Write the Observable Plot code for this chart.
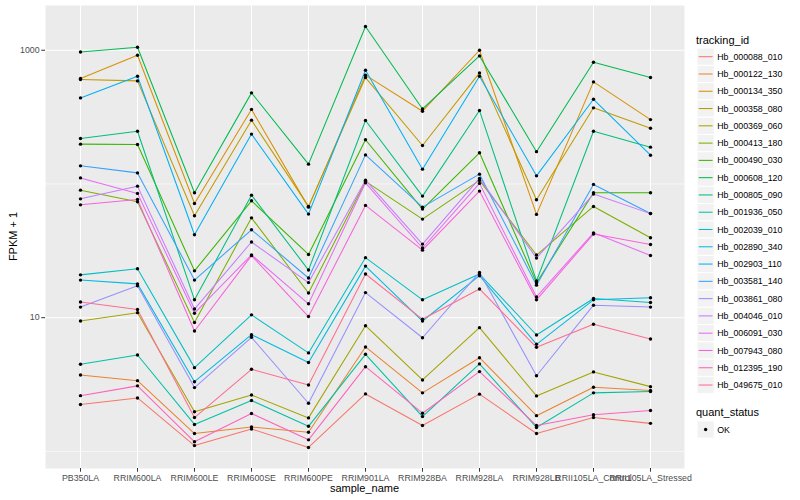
<!DOCTYPE html>
<html><head><meta charset="utf-8">
<script src="https://cdn.jsdelivr.net/npm/d3@7"></script>
<script src="https://cdn.jsdelivr.net/npm/@observablehq/plot@0.6"></script>
<style>body{margin:0;background:#fff;} #chart{width:800px;height:500px;}</style>
</head><body><div id="chart"></div>
<script>
const samples = ["PB350LA","RRIM600LA","RRIM600LE","RRIM600SE","RRIM600PE","RRIM901LA","RRIM928BA","RRIM928LA","RRIM928LB","RRII105LA_Control","RRII105LA_Stressed"];
const trackingIds = ["Hb_000088_010","Hb_000122_130","Hb_000134_350","Hb_000358_080","Hb_000369_060","Hb_000413_180","Hb_000490_030","Hb_000608_120","Hb_000805_090","Hb_001936_050","Hb_002039_010","Hb_002890_340","Hb_002903_110","Hb_003581_140","Hb_003861_080","Hb_004046_010","Hb_006091_030","Hb_007943_080","Hb_012395_190","Hb_049675_010"];
const palette = ["#F8766D","#EA8331","#D89000","#C09B00","#A3A500","#7CAE00","#39B600","#00BB4E","#00BF7D","#00C1A3","#00BFC4","#00BAE0","#00B0F6","#35A2FF","#9590FF","#C77CFF","#E76BF3","#FA62DB","#FF62BC","#FF6C91"];

// FPKM + 1 values, in sample order
const hb_000088_010 = [2.24, 2.51, 1.105, 1.47, 1.07, 2.69, 1.56, 2.68, 1.36, 1.79, 1.62];
const hb_000122_130 = [3.73, 3.38, 1.36, 1.52, 1.39, 6.04, 2.74, 5.02, 1.85, 3.02, 2.85];
const hb_000134_350 = [615, 918, 71.5, 361, 67.1, 651, 350, 1000, 59.2, 580, 303];
const hb_000358_080 = [604, 590, 57.8, 300, 68, 625, 194, 677, 76.1, 371, 261];
const hb_000369_060 = [9.44, 10.9, 1.98, 2.64, 1.78, 8.71, 3.42, 8.42, 2.60, 3.93, 3.05];
const hb_000413_180 = [89.9, 73.5, 9.2, 55.8, 15.3, 104.5, 54.6, 106.3, 29.4, 67.9, 39.6];
const hb_000490_030 = [198.5, 197.5, 22.4, 74.8, 29.7, 214, 64.9, 171, 18.2, 85.9, 85.9];
const hb_000608_120 = [971, 1053, 85.9, 480, 140.7, 1504, 364, 907, 174.4, 813, 625];
const hb_000805_090 = [219, 248, 13.6, 82.5, 22.7, 298, 81.1, 354, 18.8, 248, 188.5];
const hb_001936_050 = [4.48, 5.26, 1.59, 2.40, 1.54, 5.32, 1.82, 4.51, 1.51, 2.74, 2.80];
const hb_002039_010 = [20.9, 23.2, 4.23, 10.5, 5.45, 28.1, 13.6, 21.2, 7.42, 13.9, 13.0];
const hb_002890_340 = [19.1, 17.9, 3.32, 7.46, 4.62, 24.3, 9.44, 20.6, 6.32, 13.6, 14.1];
const hb_002903_110 = [440, 639, 41.7, 236, 59.5, 709, 129, 639, 115, 430, 164];
const hb_003581_140 = [136.6, 121, 19.1, 45.4, 19.8, 165, 67.1, 118.4, 17.5, 99.2, 60.2];
const hb_003861_080 = [12.0, 17.3, 3.0, 7.13, 2.29, 15.4, 7.08, 21.8, 3.68, 12.4, 12.0];
const hb_004046_010 = [77.4, 96.3, 11.6, 36.8, 18.3, 106.8, 35.5, 110, 27.9, 84, 60];
const hb_006091_030 = [111, 85, 10.8, 29.5, 12.7, 102, 33.2, 101, 14.3, 43.1, 29.2];
const hb_007943_080 = [69.8, 76.6, 7.95, 29.1, 10.2, 69.1, 32.0, 88.4, 13.6, 42.2, 35.3];
const hb_012395_190 = [2.61, 3.09, 1.18, 1.92, 1.22, 4.30, 1.93, 3.95, 1.56, 1.88, 2.02];
const hb_049675_010 = [13.1, 11.5, 1.79, 4.11, 3.14, 21.2, 9.72, 16.4, 6.0, 8.92, 6.93];

const seriesValues = [hb_000088_010, hb_000122_130, hb_000134_350, hb_000358_080, hb_000369_060, hb_000413_180, hb_000490_030, hb_000608_120, hb_000805_090, hb_001936_050, hb_002039_010, hb_002890_340, hb_002903_110, hb_003581_140, hb_003861_080, hb_004046_010, hb_006091_030, hb_007943_080, hb_012395_190, hb_049675_010];
const majorBreaks = [10, 1000];
const minorBreaks = [1, 100];
const quantStatus = ["OK"];

const rows = [];
seriesValues.forEach((vals, i) => vals.forEach((v, j) => rows.push({id: trackingIds[i], sample: samples[j], value: v})));

const lo = Math.log10(d3.min(rows, d => d.value)), hi = Math.log10(d3.max(rows, d => d.value));
const pad = (hi - lo) * 0.05;
const yDomain = [10 ** (lo - pad), 10 ** (hi + pad)];

const font = "'Liberation Sans', Arial, Helvetica, sans-serif";
const chart = Plot.plot({
  width: 800, height: 500,
  marginLeft: 45, marginRight: 116, marginTop: 5, marginBottom: 32,
  style: {fontFamily: font, background: "white", overflow: "visible"},
  x: {type: "point", domain: samples, padding: 0.6},
  y: {type: "log", domain: yDomain},
  color: {domain: trackingIds, range: palette},
  marks: [
    Plot.frame({fill: "#EBEBEB", stroke: "none"}),
    Plot.gridY(minorBreaks, {stroke: "white", strokeOpacity: 1, strokeWidth: 0.55}),
    Plot.gridY(majorBreaks, {stroke: "white", strokeOpacity: 1, strokeWidth: 1.07}),
    Plot.gridX(samples, {stroke: "white", strokeOpacity: 1, strokeWidth: 1.07}),
    Plot.line(rows, {x: "sample", y: "value", z: "id", stroke: "id", strokeWidth: 1.05}),
    Plot.dot(rows, {x: "sample", y: "value", r: 1.7, fill: "black", stroke: "none"}),
    Plot.axisY(majorBreaks, {tickSize: 3.7, tickPadding: 2.2, stroke: "#333333", fill: "#4D4D4D", fontSize: 8.8, label: null, tickFormat: d => String(d)}),
    Plot.axisX({tickSize: 3.7, tickPadding: 2.2, stroke: "#333333", fill: "#4D4D4D", fontSize: 8.8, label: null})
  ]
});
document.getElementById("chart").appendChild(chart);

const svg = d3.select(chart);
const g = svg.append("g").attr("font-family", font).attr("text-anchor", "start");
g.append("text").attr("x", 364.5).attr("y", 492).attr("text-anchor", "middle").attr("font-size", 11).attr("fill", "black").text("sample_name");
g.append("text").attr("transform", "translate(16.5,236.5) rotate(-90)").attr("text-anchor", "middle").attr("font-size", 11).attr("fill", "black").text("FPKM + 1");

// legend: tracking_id
const keyX = 697, keyW = 17.28, row0 = 56.7;
g.append("text").attr("x", keyX - 1).attr("y", 44).attr("text-anchor", "start").attr("font-size", 11).attr("fill", "black").text("tracking_id");
trackingIds.forEach((id, i) => {
  const cy = row0 + i * keyW;
  g.append("rect").attr("x", keyX).attr("y", cy - keyW / 2).attr("width", keyW).attr("height", keyW).attr("fill", "#F2F2F2").attr("stroke", "white").attr("stroke-width", 1);
  g.append("line").attr("x1", keyX + 1.7).attr("x2", keyX + keyW - 1.7).attr("y1", cy).attr("y2", cy).attr("stroke", palette[i]).attr("stroke-width", 1.05);
  g.append("text").attr("x", keyX + keyW + 3).attr("y", cy).attr("dy", "0.35em").attr("text-anchor", "start").attr("font-size", 8.8).attr("fill", "black").text(id);
});
// legend: quant_status
g.append("text").attr("x", keyX - 1).attr("y", 416).attr("text-anchor", "start").attr("font-size", 11).attr("fill", "black").text("quant_status");
quantStatus.forEach((s, i) => {
  const cy = 429.5 + i * keyW;
  g.append("rect").attr("x", keyX).attr("y", cy - keyW / 2).attr("width", keyW).attr("height", keyW).attr("fill", "#F2F2F2").attr("stroke", "white").attr("stroke-width", 1);
  g.append("circle").attr("cx", keyX + keyW / 2).attr("cy", cy).attr("r", 1.7).attr("fill", "black");
  g.append("text").attr("x", keyX + keyW + 3).attr("y", cy).attr("dy", "0.35em").attr("text-anchor", "start").attr("font-size", 8.8).attr("fill", "black").text(s);
});
</script>
</body></html>
